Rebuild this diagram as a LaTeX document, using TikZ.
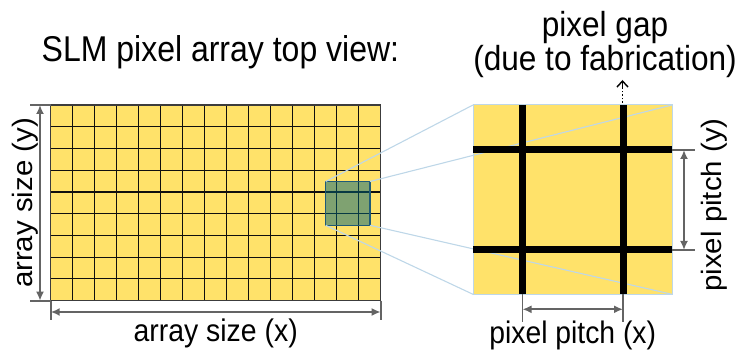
\documentclass[tikz,border=0pt]{standalone}
\usepackage{fontspec}
\setmainfont{Liberation Sans}
\usepackage{graphicx}
\usetikzlibrary{arrows.meta}
\definecolor{pixyellow}{RGB}{255,226,106}
\definecolor{lensblue}{RGB}{190,215,232}
\definecolor{dimgray}{RGB}{100,100,100}
\definecolor{selfill}{RGB}{0,100,120}
\definecolor{seledge}{RGB}{30,90,120}
\definecolor{gridcol}{RGB}{15,15,15}
\begin{document}
\begin{tikzpicture}[x=1pt,y=-1pt,
  dimline/.style={draw=dimgray,line width=1.8pt},
  dimarrow/.style={draw=dimgray,line width=1.8pt,{Latex[length=9pt,width=8pt]}-{Latex[length=9pt,width=8pt]}},
  lens/.style={draw=lensblue,line width=1.1pt},
  gapline/.style={draw=black,line width=7pt},
  gridline/.style={draw=gridcol,line width=1.1pt},
  lab/.style={inner sep=0pt,outer sep=0pt,anchor=base}]
\useasboundingbox (0,0) rectangle (740,352);
% pixel array
\fill[pixyellow] (50.7,105) rectangle (380.7,300.7);
\foreach \i in {1,...,14} \draw[gridline] ({50.7+22*\i},105) -- ({50.7+22*\i},300.7);
\foreach \j in {1,...,8} \draw[gridline] (50.7,{105+21.74*\j}) -- (380.7,{105+21.74*\j});
\draw[draw={rgb,255:red,60;green,60;blue,60},line width=1.5pt] (50.7,105) rectangle (380.7,300.7);
% zoomed square
\node[fill=pixyellow,draw=lensblue,line width=1pt,minimum width=199pt,minimum height=189.3pt,inner sep=0pt,outer sep=0pt,anchor=north west] (zoom) at (473,105) {};
% selection box
\node[fill=selfill,fill opacity=0.5,draw=seledge,line width=1.5pt,minimum width=44.3pt,minimum height=43.8pt,inner sep=0pt,outer sep=0pt,anchor=north west] (sel) at (325.7,181.5) {};
% lens lines
\draw[lens] (sel.north west) -- (zoom.north west);
\draw[lens] (sel.north east) -- (zoom.north east);
\draw[lens] (sel.south west) -- (zoom.south west);
\draw[lens] (sel.south east) -- (zoom.south east);
% pixel gaps
\draw[gapline] (522.5,105) -- (522.5,294.3);
\draw[gapline] (623,105) -- (623,294.3);
\draw[gapline] (473,150) -- (672,150);
\draw[gapline] (473,250) -- (672,250);
% dimensions left array
\draw[dimline] (30,105) -- (50.7,105);
\draw[dimline] (30,300.7) -- (50.7,300.7);
\draw[dimarrow] (40,105) -- (40,300.7);
\draw[dimline] (50.7,300.7) -- (50.7,320);
\draw[dimline] (380.7,300.7) -- (380.7,320);
\draw[dimarrow] (50.7,312) -- (380.7,312);
% dimensions zoom
\draw[dimline] (672,150) -- (695,150);
\draw[dimline] (672,250) -- (695,250);
\draw[dimarrow] (684,150) -- (684,250);
\draw[dimline] (522.5,294.3) -- (522.5,322);
\draw[dimline] (623,294.3) -- (623,322);
\draw[dimarrow] (522.5,309.3) -- (623,309.3);
% dotted arrow
\coordinate (gapbot) at (622.5,103);
\coordinate (gapmid) at (622.5,87);
\coordinate (gaptop) at (622.5,80);
\draw[dotted,line width=1.5pt] (gapbot) -- (gapmid);
\draw[line width=1.4pt,-{Straight Barb[length=6pt,width=11pt]}] (gapmid) -- (gaptop);
% texts
\node[lab,anchor=base west] (title) at (41.7,61.7) {\fontsize{32}{38}\selectfont\scalebox{1}[1.12]{SLM pixel array top view:}};
\node[lab] (gap1) at (605,36.5) {\fontsize{31.6}{38}\selectfont\scalebox{1}[1.1]{pixel gap}};
\node[lab] (gap2) at (605,70.5) {\fontsize{31.6}{38}\selectfont\scalebox{1}[1.1]{(due to fabrication)}};
\node[lab] (ax) at (215.7,342) {\fontsize{28.4}{34}\selectfont\scalebox{1}[1.1]{array size (x)}};
\node[lab] (px) at (572.7,344) {\fontsize{28.3}{34}\selectfont\scalebox{1}[1.1]{pixel pitch (x)}};
\node[lab,rotate=90] (ay) at (32,203) {\fontsize{28}{34}\selectfont\scalebox{1.05}[1]{array size (y)}};
\node[lab,rotate=90] (py) at (721,205) {\fontsize{28}{34}\selectfont\scalebox{1.05}[1]{pixel pitch (y)}};
\end{tikzpicture}
\end{document}
